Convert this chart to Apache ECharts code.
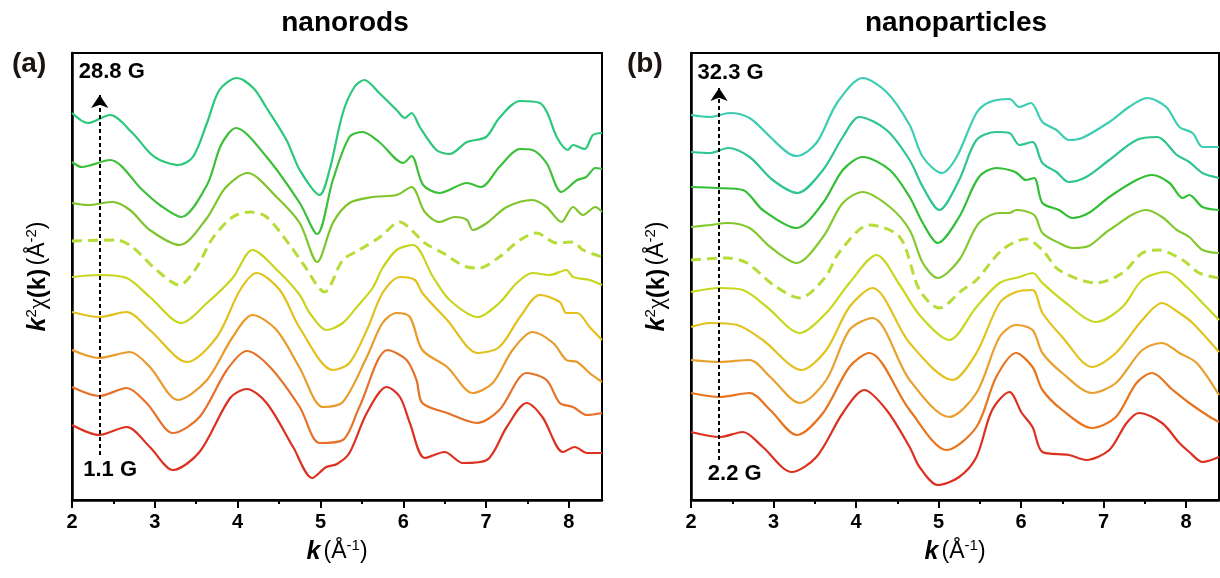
<!DOCTYPE html>
<html>
<head>
<meta charset="utf-8">
<script src="https://cdn.jsdelivr.net/npm/echarts@6/dist/echarts.min.js"></script>
<style>
  html, body { margin: 0; padding: 0; background: #fff; }
  #chart { width: 1220px; height: 578px; }
</style>
</head>
<body>
<div id="chart"></div>
<script>
// k-space spectra k^2·chi(k), stacked with vertical offsets (arbitrary units).
// Each curve is a list of [k, offset signal] pairs; first curve = highest field.

const kTicks = [2, 3, 4, 5, 6, 7, 8];
const kHalfTicks = [2.5, 3.5, 4.5, 5.5, 6.5, 7.5];

const panelTitles = ['nanorods', 'nanoparticles'];
const panelTags = ['(a)', '(b)'];

// nanorods: 28.8 G (top) ... 1.1 G (bottom)
const rodSpectra = [
  [[2.0,387],[2.19,377],[2.46,385],[2.73,367],[2.94,347],[3.06,340],[3.28,335],[3.46,343],[3.63,377],[3.78,410],[3.99,422],[4.19,412],[4.35,392],[4.59,360],[4.75,330],[4.99,305],[5.11,330],[5.27,387],[5.41,413],[5.53,420],[5.71,407],[5.92,390],[6.02,382],[6.10,387],[6.20,373],[6.40,350],[6.56,346],[6.77,358],[7.0,363],[7.16,382],[7.41,399],[7.65,397],[7.74,387],[7.86,362],[7.99,350],[8.05,355],[8.19,351],[8.29,365],[8.4,367]],
  [[2.0,338],[2.12,333],[2.46,340],[2.85,310],[3.06,295],[3.32,283],[3.63,315],[3.80,355],[3.98,372],[4.35,343],[4.75,297],[4.96,266],[5.15,320],[5.35,363],[5.51,368],[5.71,358],[6.0,337],[6.10,344],[6.24,315],[6.44,307],[6.77,317],[6.94,313],[7.16,333],[7.41,351],[7.56,350],[7.73,337],[7.91,308],[8.10,320],[8.21,323],[8.32,332],[8.4,331]],
  [[2.0,297],[2.19,295],[2.49,298],[2.70,290],[2.94,270],[3.30,255],[3.63,282],[3.85,312],[4.12,327],[4.47,303],[4.75,277],[4.96,238],[5.15,277],[5.35,297],[5.63,303],[5.92,305],[6.10,313],[6.26,288],[6.44,278],[6.62,283],[6.77,280],[6.84,270],[7.01,277],[7.25,293],[7.56,300],[7.73,293],[7.91,278],[8.05,293],[8.17,285],[8.32,293],[8.4,288]],
  [[2.0,259],[2.54,260],[2.73,253],[3.02,230],[3.30,215],[3.50,232],[3.70,262],[3.94,283],[4.15,288],[4.35,283],[4.63,255],[4.80,235],[5.05,208],[5.27,240],[5.47,250],[5.72,263],[5.96,278],[6.10,270],[6.26,257],[6.48,247],[6.77,233],[6.92,232],[7.16,243],[7.41,260],[7.61,267],[7.85,257],[8.05,258],[8.17,250],[8.4,243]],
  [[2.0,223],[2.33,225],[2.66,222],[2.94,203],[3.32,177],[3.63,197],[3.94,222],[4.18,250],[4.50,228],[4.75,205],[4.87,187],[5.07,170],[5.27,177],[5.44,193],[5.63,212],[5.75,232],[5.92,250],[6.12,255],[6.36,223],[6.56,200],[6.90,183],[7.16,197],[7.37,217],[7.56,227],[7.77,225],[7.97,230],[8.05,223],[8.25,220],[8.4,215]],
  [[2.0,188],[2.33,183],[2.66,188],[2.94,170],[3.39,138],[3.75,163],[4.03,210],[4.23,227],[4.51,210],[4.75,172],[5.15,130],[5.35,137],[5.56,170],[5.75,207],[5.96,223],[6.14,220],[6.23,207],[6.53,180],[6.90,147],[7.16,153],[7.41,183],[7.65,205],[7.89,198],[7.97,187],[8.10,187],[8.25,173],[8.4,160]],
  [[2.0,150],[2.33,142],[2.70,148],[2.94,133],[3.28,100],[3.63,120],[3.94,163],[4.18,185],[4.47,170],[4.75,132],[5.03,93],[5.27,98],[5.56,143],[5.75,177],[5.92,187],[6.08,183],[6.23,150],[6.53,133],[6.84,107],[7.08,117],[7.32,150],[7.56,168],[7.81,157],[7.97,140],[8.10,138],[8.25,127],[8.4,118]],
  [[2.0,113],[2.33,104],[2.66,112],[2.90,97],[3.22,67],[3.54,83],[3.87,130],[4.11,149],[4.39,133],[4.75,93],[4.99,57],[5.27,60],[5.47,93],[5.81,150],[6.04,140],[6.16,120],[6.23,97],[6.53,87],[6.89,77],[7.16,90],[7.49,127],[7.73,120],[7.89,97],[8.05,93],[8.22,85],[8.4,87]],
  [[2.0,75],[2.33,65],[2.66,73],[2.94,53],[3.22,30],[3.54,48],[3.91,102],[4.11,111],[4.35,97],[4.67,53],[4.90,22],[5.07,33],[5.20,36],[5.35,47],[5.56,87],[5.80,113],[5.96,103],[6.08,77],[6.26,42],[6.50,48],[6.72,37],[7.01,40],[7.25,73],[7.49,97],[7.68,83],[7.93,48],[8.07,53],[8.22,47],[8.4,47]]
];
const rodColors = ['#2bc77a', '#3dbf3a', '#7ec42c', '#b6dc38', '#c8d41e', '#e2c01e', '#e89a2a', '#e6722a', '#dc3020'];
const rodDashed = 3;

// nanoparticles: 32.3 G (top) ... 2.2 G (bottom)
const particleSpectra = [
  [[2.0,385],[2.23,383],[2.47,387],[2.71,382],[2.96,363],[3.16,348],[3.28,344],[3.52,357],[3.77,397],[4.08,422],[4.37,408],[4.65,375],[4.81,343],[5.04,327],[5.22,343],[5.46,387],[5.62,398],[5.86,401],[5.98,393],[6.12,397],[6.26,378],[6.43,370],[6.58,360],[6.74,362],[7.07,378],[7.31,393],[7.53,402],[7.76,393],[7.92,373],[8.08,367],[8.20,353],[8.4,353]],
  [[2.0,348],[2.23,347],[2.45,352],[2.71,343],[2.99,320],[3.29,307],[3.60,330],[3.84,363],[4.04,383],[4.37,370],[4.65,340],[4.81,313],[5.01,290],[5.25,320],[5.46,360],[5.70,368],[5.86,367],[5.98,355],[6.14,358],[6.26,337],[6.43,328],[6.58,318],[6.79,323],[7.07,340],[7.40,360],[7.65,363],[7.89,345],[8.04,338],[8.20,327],[8.4,322]],
  [[2.0,313],[2.31,312],[2.63,310],[2.87,290],[3.28,272],[3.60,297],[3.84,330],[4.08,343],[4.41,330],[4.65,303],[4.81,277],[4.99,257],[5.25,283],[5.49,323],[5.70,332],[5.86,330],[5.95,327],[6.06,320],[6.16,322],[6.26,297],[6.46,290],[6.62,282],[6.82,287],[7.07,303],[7.40,320],[7.59,325],[7.80,317],[7.96,302],[8.04,305],[8.20,293],[8.4,290]],
  [[2.0,273],[2.23,275],[2.44,277],[2.71,272],[2.96,253],[3.28,237],[3.60,263],[3.84,297],[4.08,308],[4.41,293],[4.65,270],[4.81,237],[4.99,222],[5.25,240],[5.49,277],[5.74,287],[5.86,287],[5.94,290],[6.16,285],[6.26,267],[6.46,257],[6.62,252],[6.82,254],[7.07,270],[7.52,290],[7.71,283],[7.89,270],[8.04,263],[8.20,250],[8.4,247]],
  [[2.0,240],[2.44,242],[2.68,237],[3.0,215],[3.32,202],[3.62,222],[3.80,248],[4.16,275],[4.53,263],[4.77,210],[5.01,192],[5.29,210],[5.46,220],[5.77,250],[6.06,261],[6.26,250],[6.46,230],[6.91,217],[7.23,227],[7.47,247],[7.67,250],[7.96,240],[8.16,227],[8.4,222]],
  [[2.0,208],[2.35,212],[2.63,210],[2.92,193],[3.32,167],[3.64,187],[3.92,217],[4.25,245],[4.53,215],[4.77,185],[5.13,160],[5.46,193],[5.74,217],[5.98,223],[6.14,227],[6.26,217],[6.50,200],[6.91,178],[7.23,193],[7.47,220],[7.76,228],[8.01,213],[8.20,197],[8.4,180]],
  [[2.0,173],[2.23,177],[2.56,175],[2.87,160],[3.34,130],[3.64,150],[3.92,193],[4.20,212],[4.65,157],[5.17,120],[5.46,147],[5.74,197],[5.94,208],[6.14,210],[6.26,187],[6.50,163],[6.86,133],[7.15,147],[7.47,180],[7.71,197],[7.92,187],[8.08,177],[8.4,148]],
  [[2.0,140],[2.35,138],[2.71,140],[2.96,123],[3.32,97],[3.64,120],[3.92,170],[4.20,182],[4.65,120],[5.13,83],[5.46,107],[5.74,163],[5.94,175],[6.14,170],[6.26,147],[6.50,127],[6.86,107],[7.15,117],[7.47,150],[7.71,157],[7.92,147],[8.13,137],[8.4,105]],
  [[2.0,107],[2.35,103],[2.71,107],[2.96,90],[3.28,65],[3.60,87],[3.92,133],[4.16,147],[4.65,90],[5.10,50],[5.46,73],[5.70,123],[5.94,147],[6.14,133],[6.26,110],[6.50,90],[6.86,72],[7.15,83],[7.40,117],[7.59,127],[7.84,110],[8.04,97],[8.29,83],[8.4,78]],
  [[2.0,68],[2.35,63],[2.63,68],[2.87,53],[3.22,28],[3.52,43],[3.84,87],[4.10,110],[4.37,90],[4.65,53],[4.77,33],[4.99,15],[5.25,23],[5.46,43],[5.65,90],[5.86,108],[6.01,87],[6.14,73],[6.26,48],[6.58,45],[6.79,40],[7.07,50],[7.28,77],[7.43,87],[7.71,77],[7.92,57],[8.04,48],[8.20,38],[8.4,43]]
];
const particleColors = ['#3ccdb2', '#2ec68c', '#33bf35', '#84c830', '#b6dc38', '#c8d81e', '#e2c21e', '#e8a02e', '#e8741e', '#dc3020'];
const particleDashed = 4;

// field-direction arrows: [k, start, end]
const rodArrow = [2.335, 45, 405];
const particleArrow = [2.34, 40, 412];

// field labels: [k, y, text]
const rodFieldLabels = [[2.48, 428, '28.8 G'], [2.46, 30, '1.1 G']];
const particleFieldLabels = [[2.48, 427, '32.3 G'], [2.53, 26, '2.2 G']];

const FONT = '"Liberation Sans", Arial, Helvetica, sans-serif';
const YMAX = 447;

const grids = [
  { left: 72, top: 53, width: 530, height: 447 },
  { left: 691, top: 53, width: 528, height: 447 }
];

const xName = '{k|k} {n|(Å}{sup|-1}{n|)}';
const yName = '{k|k}{sup|2}{chi|χ}{b|(k)} {n|(Å}{sup|-2}{n|)}';
const nameRich = {
  k: { fontFamily: FONT, fontWeight: 'bold', fontStyle: 'italic', fontSize: 25, lineHeight: 28, color: '#000' },
  b: { fontFamily: FONT, fontWeight: 'bold', fontSize: 24, lineHeight: 28, color: '#000' },
  n: { fontFamily: FONT, fontWeight: 'normal', fontSize: 23, lineHeight: 28, color: '#000' },
  chi: { fontFamily: '"Liberation Serif", "DejaVu Serif", serif', fontSize: 25, lineHeight: 28, color: '#000' },
  sup: { fontFamily: FONT, fontSize: 15, lineHeight: 15, verticalAlign: 'top', color: '#000' }
};

function mainXAxis(g) {
  return {
    type: 'value', gridIndex: g, min: 2, max: 8.4, interval: 1, position: 'bottom',
    axisLine: { show: true, onZero: false, lineStyle: { color: '#000', width: 2.5 } },
    axisTick: { show: true, inside: false, length: 8, customValues: kTicks, lineStyle: { color: '#000', width: 2 } },
    axisLabel: { show: true, customValues: kTicks, margin: 12, fontFamily: FONT, fontWeight: 'bold', fontSize: 20, color: '#000' },
    splitLine: { show: false },
    name: xName, nameLocation: 'middle', nameGap: 38,
    nameTextStyle: { rich: nameRich }
  };
}
function minorXAxis(g) {
  return {
    type: 'value', gridIndex: g, min: 2, max: 8.4, interval: 1, position: 'bottom',
    axisLine: { show: false },
    axisTick: { show: true, inside: false, length: 4, customValues: kHalfTicks, lineStyle: { color: '#000', width: 2 } },
    axisLabel: { show: false },
    splitLine: { show: false }
  };
}
function yAxis(g) {
  return {
    type: 'value', gridIndex: g, min: 0, max: YMAX,
    axisLine: { show: true, onZero: false, lineStyle: { color: '#000', width: 2.5 } },
    axisTick: { show: false }, axisLabel: { show: false }, splitLine: { show: false },
    name: yName, nameLocation: 'middle', nameRotate: 90, nameGap: 20,
    nameTextStyle: { rich: nameRich }
  };
}

function curveSeries(spectra, colors, dashedIdx, g) {
  return spectra.map((pts, i) => ({
    type: 'line', xAxisIndex: g, yAxisIndex: g, data: pts,
    showSymbol: false, smooth: 0.3, silent: true, z: 3,
    lineStyle: {
      color: colors[i],
      width: i === dashedIdx ? 3 : 2.2,
      type: i === dashedIdx ? [10, 6] : 'solid'
    }
  }));
}
function arrowSeries(arrow, g) {
  return {
    type: 'line', xAxisIndex: g, yAxisIndex: g, data: [], silent: true, z: 4,
    markLine: {
      silent: true, animation: false,
      symbol: ['none', 'arrow'], symbolSize: 13,
      label: { show: false },
      lineStyle: { color: '#000', width: 2, type: [4, 3], opacity: 1 },
      data: [[{ coord: [arrow[0], arrow[1]] }, { coord: [arrow[0], arrow[2]] }]]
    }
  };
}
function labelSeries(labels, g) {
  return {
    type: 'scatter', xAxisIndex: g, yAxisIndex: g, symbolSize: 0, silent: true, z: 5,
    itemStyle: { opacity: 1 },
    data: labels,
    label: {
      show: true, position: 'inside', formatter: p => p.value[2],
      fontFamily: FONT, fontWeight: 'bold', fontSize: 22, color: '#000', opacity: 1
    }
  };
}

const option = {
  animation: false,
  backgroundColor: '#fff',
  title: [
    { text: panelTitles[0], left: 340, top: 4, textAlign: 'center',
      textStyle: { fontFamily: FONT, fontWeight: 'bold', fontSize: 28, color: '#000' } },
    { text: panelTitles[1], left: 951, top: 4, textAlign: 'center',
      textStyle: { fontFamily: FONT, fontWeight: 'bold', fontSize: 28, color: '#000' } }
  ],
  grid: grids.map(g => Object.assign({ show: true, borderColor: '#000', borderWidth: 2, backgroundColor: 'transparent' }, g)),
  xAxis: [mainXAxis(0), mainXAxis(1), minorXAxis(0), minorXAxis(1)],
  yAxis: [yAxis(0), yAxis(1)],
  series: [
    ...curveSeries(rodSpectra, rodColors, rodDashed, 0),
    ...curveSeries(particleSpectra, particleColors, particleDashed, 1),
    arrowSeries(rodArrow, 0),
    arrowSeries(particleArrow, 1),
    labelSeries(rodFieldLabels, 0),
    labelSeries(particleFieldLabels, 1)
  ],
  graphic: [
    { type: 'text', left: 12, top: 50, style: { text: panelTags[0], font: 'bold 28px "Liberation Sans", Arial, sans-serif', fill: '#1c1410' } },
    { type: 'text', left: 627, top: 50, style: { text: panelTags[1], font: 'bold 28px "Liberation Sans", Arial, sans-serif', fill: '#1c1410' } }
  ]
};

const chart = echarts.init(document.getElementById('chart'), null, { renderer: 'canvas' });
chart.setOption(option);
</script>
</body>
</html>
